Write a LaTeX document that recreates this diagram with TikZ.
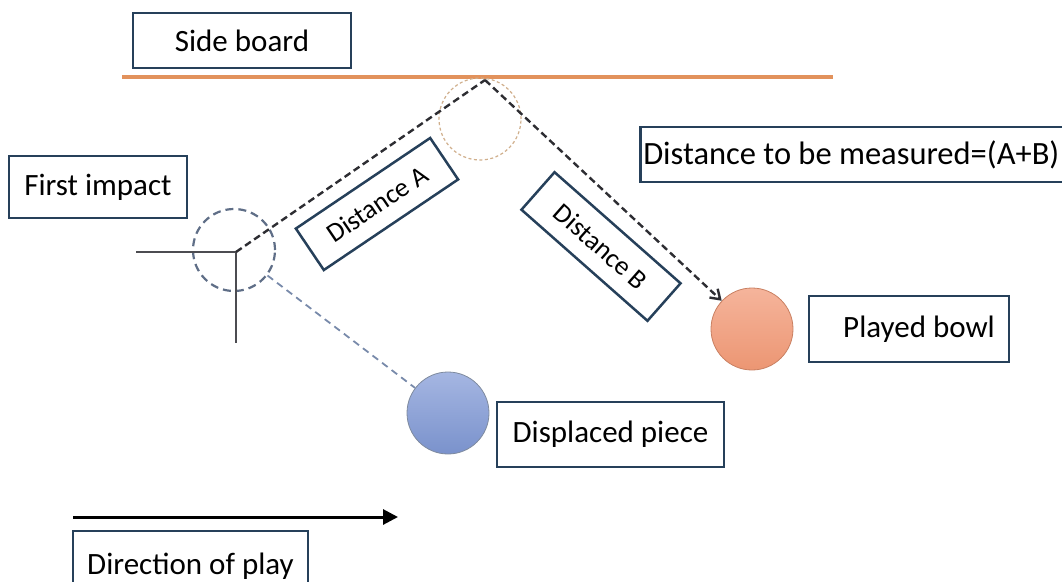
\documentclass[tikz,border=0pt]{standalone}
\usepackage{fontspec}
\setmainfont{Carlito}
\usetikzlibrary{arrows.meta, positioning}
\definecolor{cNavy}{RGB}{38,64,90}
\definecolor{cBoard}{RGB}{226,146,92}
\definecolor{cTan}{RGB}{208,175,140}
\definecolor{cTrack}{RGB}{45,45,50}
\definecolor{cSlate}{RGB}{95,110,135}
\definecolor{cPath}{RGB}{120,138,170}
\definecolor{cBlueTop}{RGB}{165,182,226}
\definecolor{cBlueBot}{RGB}{122,146,204}
\definecolor{cPeachTop}{RGB}{245,180,155}
\definecolor{cPeachBot}{RGB}{236,150,115}
\tikzset{
	lbox/.style={draw=cNavy, line width=2.5pt, fill=white, minimum height=55pt, inner sep=3pt, font=\fontsize{31}{36}\selectfont},
	tbox/.style={lbox, minimum height=50pt, font=\fontsize{27}{32}\selectfont},
	bowl/.style={circle, minimum size=82pt, inner sep=0pt},
	track/.style={line width=2.4pt, draw=cTrack, dash pattern=on 7pt off 4pt},
}

\begin{document}
\begin{tikzpicture}[x=1pt, y=-1pt]
	\useasboundingbox (0,0) rectangle (1062,581);
	\clip (0,0) rectangle (1062,581);
	% side board and the bowls
	\draw[cBoard, line width=3.5pt] (122,77) -- (833,77);
	\coordinate (apex) at (485,80);
	\coordinate (hit) at (236,252);
	\coordinate (hitW) at (136,252);
	\coordinate (hitS) at (236,343);
	\node[bowl, draw=cTan, line width=1.2pt, dash pattern=on 3pt off 2.5pt] (kiss) at (480,119) {};
	\node[bowl, draw=cSlate, line width=2.2pt, dash pattern=on 8pt off 5pt] (impact) at (234,250) {};
	\node[bowl, draw=cSlate!80, line width=0.8pt, top color=cBlueTop, bottom color=cBlueBot] (displaced) at (448,413) {};
	\node[bowl, draw=cPeachBot!85!black, line width=0.8pt, top color=cPeachTop, bottom color=cPeachBot] (played) at (752,329) {};
	\draw[line width=1.3pt, cTrack!85] (hitW) -- (hit) -- (hitS);
	\draw[track] (hit) -- (apex);
	\draw[track, -{Straight Barb[length=9pt, width=12pt]}] (apex) -- (played);
	\draw[line width=1.8pt, draw=cPath, dash pattern=on 7pt off 5pt] (impact) -- (displaced);
	% labels
	\node[lbox, minimum width=218pt] (sideboard) at (242,40.5) {Side board};
	\node[lbox, minimum width=178pt, minimum height=62pt] (first) at (98,187) {First impact};
	\node[lbox, anchor=west, inner xsep=3pt, font=\fontsize{32.5}{36}\selectfont] (measured) at (639,154.5) {\makebox[440pt][l]{Distance to be measured=(A+B)}};
	\node[lbox, minimum width=200pt, minimum height=66pt] (playedlbl) at (909,329) {\hspace*{20pt}Played bowl};
	\node[lbox, minimum width=227pt, minimum height=65pt] (displacedlbl) at (610.5,434.5) {Displaced piece};
	\node[lbox, minimum width=235pt, minimum height=70pt] (direction) at (190.5,566) {Direction of play};
	\node[tbox, minimum width=162pt, rotate=34] (distA) at (377,204) {Distance A};
	\node[tbox, minimum width=168pt, rotate=-41.4] (distB) at (601,246.5) {Distance B};
	% direction of play
	\coordinate (dirL) at (73,517);
	\coordinate (dirR) at (398,517);
	\draw[line width=3pt, -{Triangle[length=15pt, width=15pt]}] (dirL) -- (dirR);
\end{tikzpicture}
\end{document}
